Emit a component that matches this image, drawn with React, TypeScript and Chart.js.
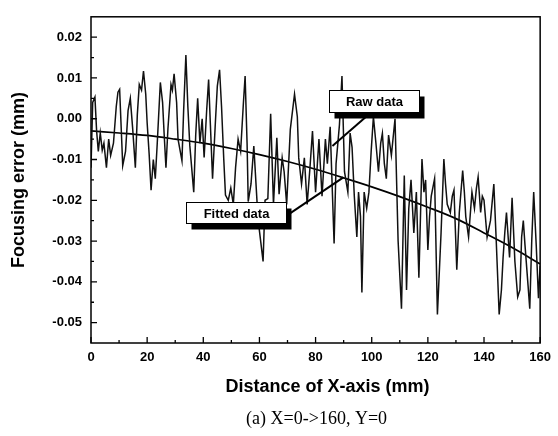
import React, { useEffect, useRef } from "react";
import { Chart, registerables } from "chart.js";

Chart.register(...registerables);

// ---- data ----
const rawX = [
  0, 0.6, 1.4, 2.0, 2.6, 3.3, 4.0, 4.6, 5.5, 6.3, 7.0, 8.0, 9.0, 9.6, 10.2, 11.3, 12.3, 13.2, 14.0, 14.8,
  15.8, 16.5, 17.2, 18.0, 18.7, 19.5, 20.0, 20.7, 21.4, 22.2, 22.9, 23.6, 24.7, 25.5, 26.0, 26.7, 27.4, 28.5, 29.0, 29.6,
  30.5, 31.0, 32.4, 33.0, 33.8, 34.5, 35.2, 36.6, 37.3, 38.0, 38.8, 39.6, 40.3, 41.2, 41.9, 42.5, 43.3, 44.3, 45.0, 45.8,
  46.5, 47.3, 47.9, 48.9, 49.8, 50.7, 51.5, 52.4, 53.3, 54.3, 54.9, 55.6, 56.0, 57.0, 58.0, 59.2, 60.0, 61.3, 62.0, 63.0,
  64.0, 65.0, 66.2, 67.0, 68.1, 68.8, 69.7, 71.0, 72.5, 73.5, 74.0, 75.0, 76.0, 77.0, 78.0, 78.9, 80.0, 81.2, 82.3, 83.5,
  84.2, 85.2, 86.6, 87.3, 88.5, 89.4, 90.3, 91.5, 92.3, 93.0, 93.8, 94.7, 95.3, 96.0, 96.5, 97.3, 98.2, 99.0, 99.8, 100.6,
  101.5, 102.4, 103.2, 103.8, 104.5, 105.2, 106.0, 107.0, 108.3, 109.4, 110.6, 111.6, 112.4, 113.2, 114.0, 115.0, 115.9, 116.8, 117.9, 118.6, 119.2,
  120.0, 120.6, 121.2, 122.4, 123.4, 124.7, 125.7, 126.3, 126.9, 128.0, 128.7, 129.3, 130.3, 131.2, 132.4, 133.0, 133.5, 134.5, 135.7, 136.6, 137.3, 137.9, 138.8, 139.4, 140.0, 141.1,
  142.3, 143.5, 144.3, 145.4, 146.2, 146.8, 147.4, 148.0, 149.1, 150.0, 151.0, 152.0, 152.8, 153.4, 154.0, 154.6, 155.7, 156.3, 157.0, 157.7, 158.6, 159.4, 160.0,
];
const rawY = [
  -0.012, 0.004, 0.0053, -0.003, -0.008, -0.0035, -0.0077, -0.006, -0.012, -0.005, -0.009, -0.006, 0.003, 0.0065, 0.0072, -0.0115, -0.008, 0.002, 0.005, -0.002,
  -0.012, 0.001, 0.0084, 0.007, 0.0117, 0.006, -0.001, -0.0085, -0.0175, -0.010, -0.0147, -0.006, 0.0089, 0.004, -0.003, -0.012, -0.0025, 0.0084, 0.007, 0.011,
  0.004, -0.005, -0.0103, 0.002, 0.0156, 0.003, -0.0066, -0.018, -0.004, 0.005, -0.006, 0.0, -0.0095, 0.002, 0.0096, -0.001, -0.0147, -0.001, 0.008, 0.012,
  0.003, -0.010, -0.0187, -0.020, -0.017, -0.021, -0.012, -0.005, -0.008, 0.004, 0.0105, -0.006, -0.0203, -0.016, -0.0067, -0.021, -0.0275, -0.035, -0.020, -0.0196,
  0.0012, -0.021, -0.0047, -0.0185, -0.0096, -0.013, -0.021, -0.0026, 0.006, 0.0005, -0.0096, -0.016, -0.0096, -0.021, -0.012, -0.003, -0.018, -0.005, -0.019, -0.005,
  -0.011, -0.002, -0.0306, -0.011, -0.0015, 0.0105, -0.013, -0.018, -0.0035, -0.007, -0.019, -0.029, -0.018, -0.024, -0.0426, -0.018, -0.022, -0.018, -0.008, 0.0005,
  -0.006, -0.013, -0.006, -0.0036, -0.011, -0.0147, -0.004, -0.009, 0.0, -0.030, -0.0466, -0.0139, -0.042, -0.022, -0.015, -0.028, -0.018, -0.039, -0.0099, -0.018, -0.015,
  -0.0322, -0.024, -0.019, -0.0147, -0.048, -0.028, -0.0099, -0.016, -0.021, -0.023, -0.019, -0.0175, -0.037, -0.023, -0.0127, -0.018, -0.024, -0.029, -0.018, -0.022, -0.017, -0.0143, -0.023, -0.019, -0.020, -0.029,
  -0.025, -0.016, -0.029, -0.048, -0.042, -0.034, -0.028, -0.023, -0.034, -0.0194, -0.035, -0.0437, -0.042, -0.029, -0.025, -0.031, -0.041, -0.0466, -0.030, -0.018, -0.031, -0.044, -0.036,
];

const fitX = [0, 10, 20, 30, 40, 50, 60, 70, 80, 90, 100, 110, 120, 130, 140, 150, 160];
const fitY = [
  -0.003, -0.0035, -0.0041, -0.005, -0.006, -0.0073, -0.0088, -0.0105, -0.0124, -0.0145, -0.0167, -0.0191, -0.0217, -0.0245,
  -0.028, -0.0316, -0.0356,
];

const xTicks = [0, 20, 40, 60, 80, 100, 120, 140, 160];
const xMinorTicks = [10, 30, 50, 70, 90, 110, 130, 150];
const yTicks = [0.02, 0.01, 0.0, -0.01, -0.02, -0.03, -0.04, -0.05];
const yMinorTicks = [0.015, 0.005, -0.005, -0.015, -0.025, -0.035, -0.045];

const xTitle = "Distance of X-axis (mm)";
const yTitle = "Focusing error (mm)";
const caption = "(a) X=0->160, Y=0";

// annotation labels: text, box centre (data units), arrow from / to (data units)
const rawLabel = { text: "Raw data", cx: 100.8, cy: 0.0043, w: 90, h: 22, fromX: 98.8, fromY: 0.001, toX: 86.0, toY: -0.0067 };
const fitLabel = { text: "Fitted data", cx: 51.5, cy: -0.0231, w: 100, h: 21, fromX: 70.5, fromY: -0.0234, toX: 89.9, toY: -0.0144 };

const SANS = '"Liberation Sans", Arial, sans-serif';
const SERIF = '"Liberation Serif", "Times New Roman", serif';

const decorPlugin = {
  id: "decor",
  afterDatasetsDraw(chart: any) {
    const ctx = chart.ctx as CanvasRenderingContext2D;
    const { left, right, top, bottom } = chart.chartArea;
    const xs = chart.scales.x;
    const ys = chart.scales.y;
    ctx.save();
    ctx.strokeStyle = "#000";
    ctx.fillStyle = "#000";
    // frame
    ctx.lineWidth = 1.5;
    ctx.strokeRect(left, top, right - left, bottom - top);
    // ticks (inward)
    ctx.lineWidth = 1.3;
    ctx.beginPath();
    xTicks.forEach((v) => {
      const p = xs.getPixelForValue(v);
      ctx.moveTo(p, bottom);
      ctx.lineTo(p, bottom - 6);
    });
    xMinorTicks.forEach((v) => {
      const p = xs.getPixelForValue(v);
      ctx.moveTo(p, bottom);
      ctx.lineTo(p, bottom - 3);
    });
    yTicks.forEach((v) => {
      const p = ys.getPixelForValue(v);
      ctx.moveTo(left, p);
      ctx.lineTo(left + 6, p);
    });
    yMinorTicks.forEach((v) => {
      const p = ys.getPixelForValue(v);
      ctx.moveTo(left, p);
      ctx.lineTo(left + 3, p);
    });
    ctx.stroke();

    // annotation labels
    [rawLabel, fitLabel].forEach((a) => {
      const fx = xs.getPixelForValue(a.fromX);
      const fy = ys.getPixelForValue(a.fromY);
      const tx = xs.getPixelForValue(a.toX);
      const ty = ys.getPixelForValue(a.toY);
      ctx.lineWidth = 2;
      ctx.beginPath();
      ctx.moveTo(fx, fy);
      ctx.lineTo(tx, ty);
      ctx.stroke();
      const cx = xs.getPixelForValue(a.cx);
      const cy = ys.getPixelForValue(a.cy);
      const bx = Math.round(cx - a.w / 2) + 0.5;
      const by = Math.round(cy - a.h / 2) + 0.5;
      ctx.fillStyle = "#000";
      ctx.fillRect(bx + 5, by + 6, a.w, a.h);
      ctx.fillStyle = "#fff";
      ctx.fillRect(bx, by, a.w, a.h);
      ctx.lineWidth = 1;
      ctx.strokeRect(bx, by, a.w, a.h);
      ctx.fillStyle = "#000";
      ctx.font = `bold 13px ${SANS}`;
      ctx.textAlign = "center";
      ctx.textBaseline = "middle";
      ctx.fillText(a.text, bx + a.w / 2, by + a.h / 2 + 1);
    });
    ctx.restore();
  },
  afterDraw(chart: any) {
    const ctx = chart.ctx as CanvasRenderingContext2D;
    const { left, right, top, bottom } = chart.chartArea;
    ctx.save();
    ctx.fillStyle = "#000";
    ctx.textAlign = "center";
    ctx.textBaseline = "middle";
    ctx.font = `bold 18px ${SANS}`;
    ctx.fillText(xTitle, (left + right) / 2 + 12, 387);
    ctx.save();
    ctx.translate(19, (top + bottom) / 2);
    ctx.rotate(-Math.PI / 2);
    ctx.fillText(yTitle, 0, 0);
    ctx.restore();
    ctx.font = `18px ${SERIF}`;
    ctx.fillText(caption, (left + right) / 2 + 1, 419);
    ctx.restore();
  },
};

export default function App() {
  const ref = useRef<HTMLCanvasElement | null>(null);
  useEffect(() => {
    document.body.style.margin = "0";
    const canvas = ref.current;
    if (!canvas) return;
    const chart = new Chart(canvas, {
      type: "line",
      data: {
        datasets: [
          {
            label: "Raw data",
            data: rawX.map((x, i) => ({ x, y: rawY[i] })),
            borderColor: "#111",
            borderWidth: 1.5,
            pointRadius: 0,
            tension: 0,
            fill: false,
          },
          {
            label: "Fitted data",
            data: fitX.map((x, i) => ({ x, y: fitY[i] })),
            borderColor: "#000",
            borderWidth: 1.7,
            pointRadius: 0,
            cubicInterpolationMode: "monotone",
            fill: false,
          },
        ],
      },
      options: {
        responsive: false,
        animation: false,
        devicePixelRatio: 1,
        layout: { padding: { top: 7, right: 13, left: 0, bottom: 0 } },
        plugins: { legend: { display: false }, tooltip: { enabled: false }, title: { display: false } },
        scales: {
          x: {
            type: "linear",
            min: 0,
            max: 160,
            grid: { display: false, drawTicks: false },
            border: { display: false },
            afterBuildTicks: (s: any) => {
              s.ticks = xTicks.map((v) => ({ value: v }));
            },
            afterFit: (s: any) => {
              s.height = 93;
            },
            ticks: {
              padding: 7,
              maxRotation: 0,
              autoSkip: false,
              color: "#000",
              font: { family: SANS, size: 13, weight: "bold" },
              callback: (v: any) => String(v),
            },
          },
          y: {
            type: "linear",
            min: -0.055,
            max: 0.025,
            grid: { display: false, drawTicks: false },
            border: { display: false },
            afterBuildTicks: (s: any) => {
              s.ticks = yTicks.map((v) => ({ value: v }));
            },
            afterFit: (s: any) => {
              s.width = 91;
            },
            ticks: {
              padding: 9,
              autoSkip: false,
              color: "#000",
              font: { family: SANS, size: 13, weight: "bold" },
              callback: (v: any) => Number(v).toFixed(2),
            },
          },
        },
      },
      plugins: [decorPlugin],
    } as any);
    return () => chart.destroy();
  }, []);
  return (
    <div style={{ position: "absolute", left: 0, top: 0, width: 558, height: 436, background: "#fff" }}>
      <canvas ref={ref} width={558} height={436} />
    </div>
  );
}
